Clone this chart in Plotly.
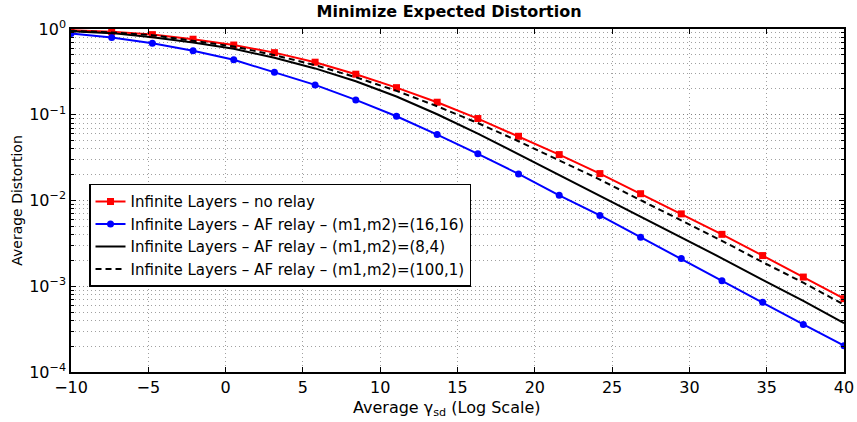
import plotly.graph_objects as go

x_vals = [-10.0, -7.368, -4.737, -2.105, 0.526, 3.158, 5.789, 8.421, 11.053, 13.684,
          16.316, 18.947, 21.579, 24.211, 26.842, 29.474, 32.105, 34.737, 37.368, 40.0]

no_relay = [0.97, 0.93, 0.86, 0.76, 0.65, 0.53, 0.41, 0.297, 0.207, 0.14,
            0.0903, 0.0561, 0.0343, 0.0206, 0.0120, 0.00698, 0.00403, 0.00228, 0.00128, 0.000716]

af_16_16 = [0.886, 0.796, 0.683, 0.557, 0.437, 0.313, 0.223, 0.149, 0.096, 0.0587,
            0.035, 0.0204, 0.0115, 0.0067, 0.00372, 0.0021, 0.00116, 0.000649, 0.000359, 0.000203]

af_8_4 = [0.942, 0.895, 0.802, 0.695, 0.588, 0.461, 0.347, 0.246, 0.163, 0.1014,
          0.0604, 0.0346, 0.020, 0.0114, 0.00649, 0.00372, 0.00212, 0.00119, 0.000676, 0.000371]

af_100_1 = [0.955, 0.91, 0.847, 0.734, 0.625, 0.496, 0.379, 0.274, 0.19, 0.1257,
            0.0801, 0.0491, 0.0296, 0.01754, 0.0101, 0.00586, 0.00339, 0.00191, 0.0011, 0.00061]

names = ["Infinite Layers – no relay",
         "Infinite Layers – AF relay – (m1,m2)=(16,16)",
         "Infinite Layers – AF relay – (m1,m2)=(8,4)",
         "Infinite Layers – AF relay – (m1,m2)=(100,1)"]

y_tickvals = [1e-4, 1e-3, 1e-2, 1e-1, 1]
y_ticktext = ["10<sup>−4</sup>", "10<sup>−3</sup>", "10<sup>−2</sup>", "10<sup>−1</sup>", "10<sup>0</sup>"]
x_tickvals = [-10, -5, 0, 5, 10, 15, 20, 25, 30, 35, 40]
x_ticktext = ["−10", "−5", "0", "5", "10", "15", "20", "25", "30", "35", "40"]

fig = go.Figure()
fig.add_trace(go.Scatter(x=x_vals, y=no_relay, name=names[0], mode="lines+markers",
                         line=dict(color="#ff0000", width=2),
                         marker=dict(symbol="square", size=7, color="#ff0000")))
fig.add_trace(go.Scatter(x=x_vals, y=af_16_16, name=names[1], mode="lines+markers",
                         line=dict(color="#0000ff", width=2),
                         marker=dict(symbol="circle", size=7, color="#0000ff")))
fig.add_trace(go.Scatter(x=x_vals, y=af_8_4, name=names[2], mode="lines",
                         line=dict(color="#000000", width=2)))
fig.add_trace(go.Scatter(x=x_vals, y=af_100_1, name=names[3], mode="lines",
                         line=dict(color="#000000", width=2, dash="6px,4px")))

font_family = "DejaVu Sans, Liberation Sans, Arial, sans-serif"
grid_dash = "1px,3px"

fig.update_layout(
    width=857, height=422,
    margin=dict(l=71, r=13, t=29, b=50),
    paper_bgcolor="white", plot_bgcolor="white",
    font=dict(family=font_family, size=16, color="black"),
    title=dict(text="<b>Minimize Expected Distortion</b>", x=0.524, xref="container",
               xanchor="center", y=0.974, yref="container", yanchor="middle",
               font=dict(size=16, family=font_family)),
    showlegend=True,
    legend=dict(x=0.0233, y=0.549, xanchor="left", yanchor="top",
                bgcolor="white", bordercolor="black", borderwidth=1.5,
                font=dict(size=15, family=font_family),
                tracegroupgap=0, itemwidth=30),
)

# x-axis title placed just under the tick labels, as in the original
fig.add_annotation(text="Average γ<sub>sd</sub> (Log Scale)", xref="paper", yref="paper",
                   x=0.486, y=-0.07, xanchor="center", yanchor="top", showarrow=False,
                   font=dict(size=16, family=font_family, color="black"))

fig.update_xaxes(range=[-10, 40], tickvals=x_tickvals, ticktext=x_ticktext,
                 ticks="inside", ticklen=5, tickcolor="black",
                 showline=True, linecolor="black", linewidth=1.5, mirror="ticks",
                 showgrid=True, gridcolor="#a0a0a0", griddash=grid_dash, gridwidth=1,
                 zeroline=False, automargin=False, ticklabeloverflow="allow",
                 tickfont=dict(size=16))

fig.update_yaxes(type="log", range=[-4, 0], tickvals=y_tickvals, ticktext=y_ticktext,
                 ticks="inside", ticklen=5, tickcolor="black",
                 showline=True, linecolor="black", linewidth=1.5, mirror="ticks",
                 showgrid=True, gridcolor="#808080", griddash=grid_dash, gridwidth=1,
                 zeroline=False, automargin=False,
                 minor=dict(dtick="D1", ticks="inside", ticklen=3, tickcolor="black",
                            showgrid=True, gridcolor="#a0a0a0", griddash=grid_dash, gridwidth=1),
                 title=dict(text="Average Distortion", standoff=3, font=dict(size=14)),
                 tickfont=dict(size=16))

# remove the browser's default 8px body margin so the figure fills the window
fig.write_html("out.html", config={"displayModeBar": False},
               post_script="document.body.style.margin='0';")
